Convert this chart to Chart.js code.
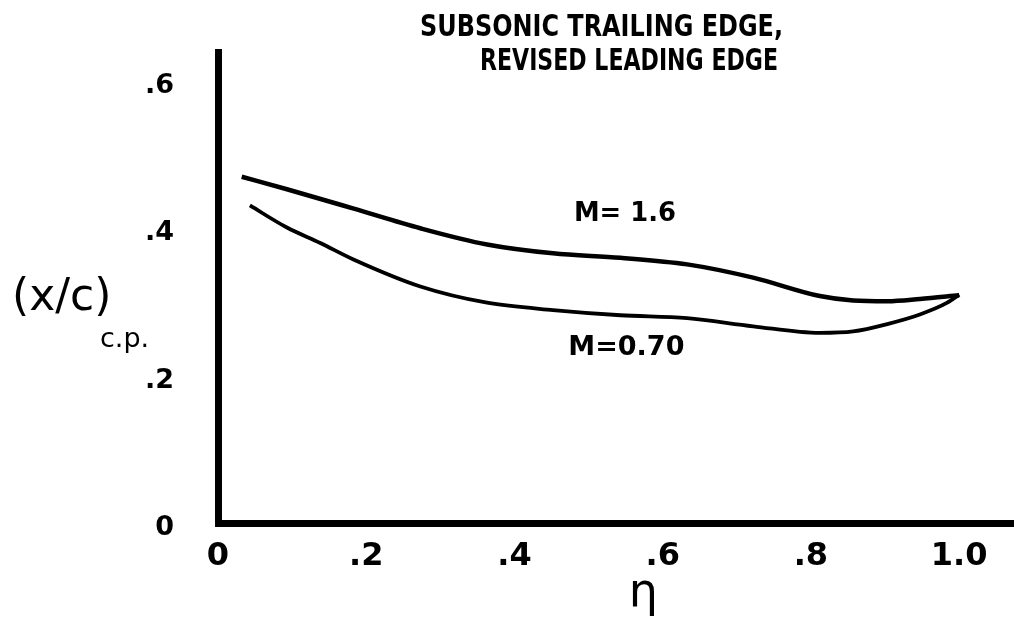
<!DOCTYPE html>
<html>
<head>
<meta charset="utf-8">
<script src="https://cdn.jsdelivr.net/npm/chart.js@4.4.0/dist/chart.umd.min.js"></script>
<style>
  html, body { margin: 0; padding: 0; background: #fff; }
</style>
</head>
<body>
<canvas id="cp" width="1014" height="619"></canvas>
<script>
// values
const etaM16 = [0.032, 0.093, 0.182, 0.273, 0.363, 0.452, 0.543, 0.633, 0.722, 0.812, 0.857, 0.903, 0.947, 1.0];
const cpM16  = [0.477, 0.460, 0.434, 0.407, 0.385, 0.373, 0.367, 0.358, 0.340, 0.315, 0.309, 0.308, 0.311, 0.316];

const etaM070 = [0.043, 0.093, 0.138, 0.182, 0.273, 0.363, 0.452, 0.543, 0.633, 0.722, 0.812, 0.857, 0.903, 0.947, 0.984, 1.0];
const cpM070  = [0.438, 0.408, 0.387, 0.365, 0.328, 0.306, 0.296, 0.289, 0.285, 0.274, 0.265, 0.267, 0.277, 0.290, 0.306, 0.317];

const etaTicks = [0, 0.2, 0.4, 0.6, 0.8, 1.0];
const etaTickLabels = ['0', '.2', '.4', '.6', '.8', '1.0'];
const cpTicks = [0, 0.2, 0.4, 0.6];
const cpTickLabels = ['0', '.2', '.4', '.6'];

const titleLines = ['SUBSONIC TRAILING EDGE,', 'REVISED LEADING EDGE'];

const pts = (xs, ys) => xs.map((x, i) => ({ x: x, y: ys[i] }));

// free text: title, axis names, curve labels
const notes = {
  id: 'notes',
  afterDraw(chart) {
    const ctx = chart.ctx;
    const sx = chart.scales.x, sy = chart.scales.y;
    ctx.save();
    ctx.fillStyle = '#000';
    ctx.textBaseline = 'middle';

    ctx.textAlign = 'left';
    ctx.font = 'bold 30px "DejaVu Sans"';
    ctx.fillText(titleLines[0], 420, 28, 363);
    ctx.fillText(titleLines[1], 480, 62, 298);

    ctx.textAlign = 'center';
    ctx.font = 'bold 27px "DejaVu Sans"';
    ctx.fillText('M= 1.6', sx.getPixelForValue(0.549), sy.getPixelForValue(0.427), 102);
    ctx.fillText('M=0.70', sx.getPixelForValue(0.551), sy.getPixelForValue(0.244), 127);

    ctx.font = '46px "DejaVu Sans"';
    ctx.fillText('η', sx.getPixelForValue(0.574), 594);

    ctx.textAlign = 'left';
    ctx.font = '44px "DejaVu Sans"';
    ctx.fillText('(x/c)', 12, 299, 112);
    ctx.font = '27px "DejaVu Sans"';
    ctx.fillText('c.p.', 100, 340, 60);
    ctx.restore();
  }
};

new Chart(document.getElementById('cp'), {
  type: 'line',
  data: {
    datasets: [
      { label: 'M= 1.6', data: pts(etaM16, cpM16), borderColor: '#000', borderWidth: 4.5, pointRadius: 0, cubicInterpolationMode: 'monotone', fill: false },
      { label: 'M=0.70', data: pts(etaM070, cpM070), borderColor: '#000', borderWidth: 3.8, pointRadius: 0, cubicInterpolationMode: 'monotone', fill: false }
    ]
  },
  options: {
    responsive: false,
    devicePixelRatio: 1,
    animation: false,
    layout: { padding: { top: 50, left: 0, right: 0, bottom: 0 }, autoPadding: false },
    plugins: { legend: { display: false }, tooltip: { enabled: false }, title: { display: false } },
    scales: {
      x: {
        type: 'linear', min: 0, max: 1.074,
        grid: { display: false },
        border: { color: '#000', width: 7 },
        afterBuildTicks: s => { s.ticks = etaTicks.map(v => ({ value: v })); },
        afterFit: s => { s.height = 96; },
        ticks: {
          color: '#000', padding: 6, maxRotation: 0, autoSkip: false,
          font: { family: 'DejaVu Sans', size: 32, weight: 'bold' },
          callback: (v, i) => etaTickLabels[i]
        }
      },
      y: {
        type: 'linear', min: 0.007, max: 0.646,
        grid: { display: false },
        border: { color: '#000', width: 7 },
        afterBuildTicks: s => { s.ticks = cpTicks.map(v => ({ value: v })); },
        afterFit: s => { s.width = 218; },
        ticks: {
          color: '#000', padding: 36, autoSkip: false,
          font: { family: 'DejaVu Sans', size: 27, weight: 'bold' },
          callback: (v, i) => cpTickLabels[i]
        }
      }
    }
  },
  plugins: [notes]
});
</script>
</body>
</html>
